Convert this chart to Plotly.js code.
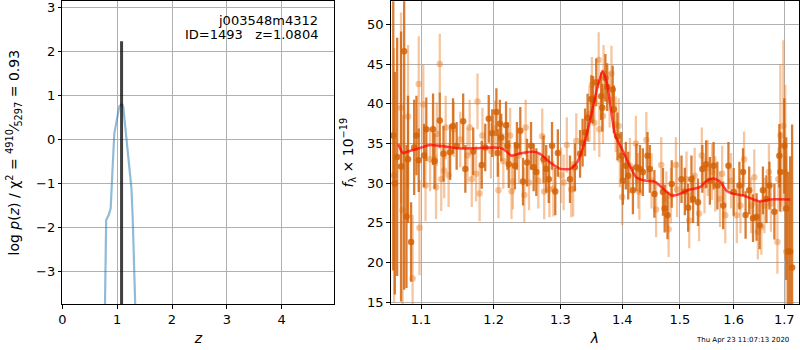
<!DOCTYPE html>
<html>
<head>
<meta charset="utf-8">
<script src="https://cdn.plot.ly/plotly-3.0.1.min.js"></script>
<style>html,body{margin:0;padding:0;background:#fff}#chart{width:800px;height:350px}</style>
</head>
<body>
<div id="chart"></div>
<script>
// ---- left panel: redshift probability ----
const zGrid = [0.775, 0.782, 0.79, 0.80, 0.844, 0.882, 0.912, 0.948, 0.992, 1.04, 1.076, 1.095, 1.112, 1.14, 1.178, 1.234, 1.26, 1.283, 1.305, 1.325, 1.335];
const logPz = [-4.0, -3.0, -2.2, -1.83, -1.72, -1.56, -0.77, 0.14, 0.44, 0.76, 0.80, 0.80, 0.74, 0.40, 0.0, -0.62, -1.1, -1.76, -2.6, -3.65, -4.0];
const zBest = [1.0804, 1.0804];
const zBestY = [-4.0, 2.24];

// ---- right panel: spectrum (two grism orientations) ----
const wavA = [1.064, 1.066, 1.069, 1.074, 1.078, 1.081, 1.083, 1.087, 1.091, 1.094, 1.097, 1.104, 1.107, 1.116, 1.118, 1.125, 1.130, 1.139, 1.143, 1.148, 1.157, 1.160, 1.171, 1.183, 1.188, 1.193, 1.198, 1.204, 1.206, 1.209, 1.211, 1.218, 1.220, 1.222, 1.231, 1.234, 1.239, 1.243, 1.249, 1.255, 1.259, 1.263, 1.274, 1.278, 1.282, 1.287, 1.292, 1.296, 1.315, 1.3227, 1.331, 1.335, 1.339, 1.343, 1.349, 1.352, 1.357, 1.365, 1.367, 1.372, 1.375, 1.384, 1.386, 1.392, 1.3985, 1.401, 1.406, 1.410, 1.418, 1.424, 1.430, 1.435, 1.443, 1.447, 1.455, 1.470, 1.473, 1.478, 1.4855, 1.503, 1.509, 1.515, 1.521, 1.524, 1.533, 1.541, 1.548, 1.555, 1.562, 1.569, 1.580, 1.590, 1.600, 1.611, 1.618, 1.623, 1.630, 1.6375, 1.6445, 1.6505, 1.657, 1.664, 1.670, 1.680, 1.690, 1.692, 1.700, 1.704, 1.708, 1.712, 1.716];
const fluxA = [36.0, 30.0, 33.3, 32.1, 46.6, 25.8, 33.0, 22.6, 34.5, 36.0, 32.9, 33.5, 36.8, 36.8, 32.8, 37.9, 33.7, 33.9, 37.2, 34.7, 37.8, 31.8, 34.0, 32.3, 34.5, 38.1, 36.3, 38.95, 33.8, 37.5, 35.75, 37.3, 34.7, 32.4, 32.2, 34.7, 36.6, 30.2, 32.6, 34.7, 32.0, 31.4, 33.0, 31.8, 30.5, 34.7, 28.95, 33.8, 30.5, 32.0, 33.7, 35.1, 36.4, 38.25, 40.6, 40.5, 42.7, 40.95, 39.5, 43.25, 42.1, 41.8, 39.3, 35.9, 33.45, 30.3, 32.2, 30.95, 29.1, 32.0, 31.8, 31.4, 33.45, 31.8, 28.65, 28.9, 26.8, 25.95, 29.9, 30.5, 28.95, 26.9, 30.5, 28.0, 27.6, 31.8, 32.4, 30.3, 32.2, 29.7, 27.2, 32.2, 28.9, 29.7, 31.4, 26.0, 29.1, 25.6, 25.75, 24.7, 29.1, 28.0, 29.7, 26.4, 33.45, 31.4, 34.7, 26.8, 21.4, 21.4, 19.4];
const errA = [17, 14, 15, 17, 30, 9, 8, 5, 6, 5, 4, 4, 4, 4.5, 3.5, 3.5, 3.5, 3.5, 3.5, 3, 3.5, 3, 3, 3, 3, 3, 3, 3, 3, 3, 3, 3, 3, 3, 3, 3, 3, 3, 3, 3, 3, 3, 3, 3, 3, 3, 3, 3, 3, 3, 3, 3, 3, 3, 3, 3, 3, 3, 3, 3, 3, 3, 3, 3, 3, 3, 3, 3, 3, 3, 3, 3, 3, 3, 3, 3, 3, 3, 3, 3, 3, 3, 3, 3, 3, 3, 3, 3, 3, 3, 3, 3, 3, 3, 3, 3, 3, 3, 3, 3, 3, 3, 3, 3.5, 4, 5, 6, 9, 10, 12, 18];

const wavB = [1.065, 1.074, 1.076, 1.083, 1.089, 1.097, 1.098, 1.103, 1.106, 1.112, 1.120, 1.121, 1.125, 1.127, 1.131, 1.133, 1.137, 1.144, 1.153, 1.163, 1.166, 1.169, 1.175, 1.177, 1.180, 1.184, 1.196, 1.202, 1.207, 1.214, 1.224, 1.226, 1.228, 1.237, 1.245, 1.247, 1.252, 1.266, 1.272, 1.275, 1.283, 1.289, 1.301, 1.305, 1.310, 1.317, 1.320, 1.325, 1.346, 1.350, 1.354, 1.361, 1.362, 1.368, 1.369, 1.379, 1.382, 1.389, 1.394, 1.396, 1.400, 1.413, 1.423, 1.427, 1.429, 1.441, 1.450, 1.458, 1.467, 1.476, 1.480, 1.484, 1.493, 1.495, 1.512, 1.517, 1.527, 1.535, 1.540, 1.545, 1.551, 1.559, 1.565, 1.574, 1.578, 1.584, 1.595, 1.606, 1.613, 1.620, 1.634, 1.640, 1.647, 1.654, 1.660, 1.669, 1.673, 1.686, 1.688, 1.692, 1.698, 1.702, 1.704];
const fluxB = [31.0, 39.5, 26.6, 38.4, 18.0, 42.5, 24.4, 39.9, 29.7, 33.0, 29.5, 36.2, 45.0, 30.5, 31.6, 37.0, 31.0, 36.8, 35.5, 33.5, 37.0, 30.5, 31.2, 40.3, 28.7, 36.0, 34.1, 36.9, 29.1, 32.8, 36.0, 29.0, 30.2, 33.5, 28.5, 37.0, 30.1, 30.3, 35.9, 28.95, 29.2, 29.3, 31.0, 30.1, 34.8, 29.2, 29.3, 35.3, 38.7, 42.4, 37.6, 45.5, 36.8, 38.45, 43.9, 40.5, 43.8, 37.4, 37.2, 33.0, 28.25, 32.2, 35.0, 30.3, 28.9, 35.45, 30.3, 26.7, 32.3, 28.0, 24.2, 28.45, 32.3, 29.2, 30.5, 25.3, 30.95, 26.2, 33.5, 29.7, 31.9, 31.4, 29.9, 28.0, 31.2, 25.95, 30.3, 25.95, 27.2, 33.0, 27.2, 30.75, 23.9, 24.5, 27.2, 31.4, 27.4, 22.6, 30.5, 36.0, 37.2, 31.4, 21.4];
const errB = [16, 12, 12, 9, 8, 6, 6, 5, 4.5, 4, 4, 4, 3.8, 4, 3.5, 4, 4, 3.5, 3.5, 3.5, 3.5, 3.5, 3.5, 3.5, 3.5, 3.5, 3.5, 3.5, 3.5, 3.5, 3.5, 3.5, 3.5, 3.5, 3.5, 3.5, 3.5, 3.5, 3.5, 3.5, 3.5, 3.5, 3.5, 3.5, 3.5, 3.5, 3.5, 3.5, 3.5, 3.5, 3.5, 3.5, 3.5, 3.5, 3.5, 3.5, 3.5, 3.5, 3.5, 3.5, 3.5, 3.5, 3.5, 3.5, 3.5, 3.5, 3.5, 3.5, 3.5, 3.5, 3.5, 3.5, 3.5, 3.5, 3.5, 3.5, 3.5, 3.5, 3.5, 3.5, 3.5, 3.5, 3.5, 3.5, 3.5, 3.5, 3.5, 3.5, 3.5, 3.5, 3.5, 3.5, 3.5, 3.5, 3.5, 3.5, 3.5, 4, 4, 9, 10.8, 11, 12];

const wavModel = [1.0705, 1.0761, 1.0799, 1.0943, 1.1119, 1.1253, 1.148, 1.1712, 1.2, 1.214, 1.2263, 1.2385, 1.2585, 1.2686, 1.2841, 1.3, 1.3155, 1.326, 1.3366, 1.3473, 1.3581, 1.3673, 1.3745, 1.3811, 1.3882, 1.3995, 1.4127, 1.4235, 1.44, 1.4556, 1.4643, 1.4853, 1.4998, 1.5179, 1.5368, 1.5489, 1.5611, 1.5737, 1.5864, 1.6, 1.6188, 1.6383, 1.6516, 1.6716, 1.7122];
const fluxModel = [34.9, 33.8, 33.9, 34.3, 34.8, 34.7, 34.4, 34.4, 34.5, 34.3, 33.45, 33.75, 33.95, 33.7, 32.6, 31.8, 31.8, 32.6, 34.7, 38.0, 41.8, 44.1, 42.6, 39.3, 36.0, 34.3, 32.2, 30.75, 30.3, 30.2, 29.7, 28.45, 28.65, 29.2, 29.5, 30.3, 30.6, 30.2, 29.05, 28.65, 28.45, 27.95, 27.7, 27.95, 27.95];

const zTicks = [0, 1, 2, 3, 4];
const pzTicks = [-3, -2, -1, 0, 1, 2, 3];
const pzTickText = ['\u22123', '\u22122', '\u22121', '0', '1', '2', '3'];
const wavTicks = [1.1, 1.2, 1.3, 1.4, 1.5, 1.6, 1.7];
const wavTickText = ['1.1', '1.2', '1.3', '1.4', '1.5', '1.6', '1.7'];
const fluxTicks = [15, 20, 25, 30, 35, 40, 45, 50];

const FONT = 'DejaVu Sans, sans-serif';
const darkCol = 'rgba(210,96,5,0.82)';
const lightCol = 'rgba(232,128,45,0.45)';

const traces = [
  {x: zGrid, y: logPz, xaxis: 'x', yaxis: 'y', mode: 'lines', line: {color: 'rgba(31,119,180,0.5)', width: 2.2}, hoverinfo: 'skip'},
  {x: zBest, y: zBestY, xaxis: 'x', yaxis: 'y', mode: 'lines', line: {color: 'rgba(0,0,0,0.75)', width: 3}, hoverinfo: 'skip'},
  {x: wavB, y: fluxB, xaxis: 'x2', yaxis: 'y2', mode: 'markers',
   marker: {color: lightCol, size: 6.5},
   error_y: {type: 'data', array: errB, color: lightCol, thickness: 2.3, width: 0}},
  {x: wavA, y: fluxA, xaxis: 'x2', yaxis: 'y2', mode: 'markers',
   marker: {color: darkCol, size: 6.5},
   error_y: {type: 'data', array: errA, color: darkCol, thickness: 2.3, width: 0}},
  {x: wavModel, y: fluxModel, xaxis: 'x2', yaxis: 'y2', mode: 'lines', line: {color: 'rgba(255,0,0,0.7)', width: 2.5, shape: 'spline', smoothing: 0.6}}
];

const axBase = {showline: true, mirror: true, linecolor: '#000', linewidth: 1, ticks: 'outside', ticklen: 3.5, tickcolor: '#000',
  showgrid: true, gridcolor: '#b0b0b0', gridwidth: 1, zeroline: false, automargin: false, ticklabeloverflow: 'allow',
  tickfont: {family: FONT, size: 13, color: '#000'}};

const layout = {
  width: 800, height: 350, margin: {l: 0, r: 0, t: 0, b: 0}, showlegend: false,
  paper_bgcolor: '#fff', plot_bgcolor: '#fff', font: {family: FONT, size: 13, color: '#000'},
  xaxis: Object.assign({}, axBase, {domain: [0.0779, 0.4179], range: [0, 4.96], tickvals: zTicks, anchor: 'y',
    title: {text: '<i>z</i>', font: {family: FONT, size: 14}, standoff: 7}}),
  yaxis: Object.assign({}, axBase, {domain: [0.1314, 0.9963], range: [-3.74, 3.15], tickmode: 'array', tickvals: pzTicks, ticktext: pzTickText, anchor: 'x',
    title: {text: 'log <i>p</i>(<i>z</i>) / \u03c7<sup>2</sup> = <sup>4910</sup>\u2044<sub>5297</sub> = 0.93', font: {family: FONT, size: 14}, standoff: 13}}),
  xaxis2: Object.assign({}, axBase, {domain: [0.4884, 0.9991], type: 'log', range: [0.025626, 0.238255], anchor: 'y2',
    tickvals: wavTicks, ticktext: wavTickText,
    title: {text: '<i>\u03bb</i>', font: {family: FONT, size: 14}, standoff: 7}}),
  yaxis2: Object.assign({}, axBase, {domain: [0.1314, 0.9963], range: [14.79, 52.9], tickvals: fluxTicks, anchor: 'x2',
    title: {text: '<i>f</i><sub>\u03bb</sub> \u00d7 10<sup>\u221219</sup>', font: {family: FONT, size: 14}, standoff: 10}}),
  annotations: [
    {text: 'j003548m4312', xref: 'paper', yref: 'paper', x: 0.4, y: 1 - 20/350, xanchor: 'right', yanchor: 'middle', showarrow: false, font: {family: FONT, size: 13}},
    {text: 'ID=1493\u00a0\u00a0\u00a0z=1.0804', xref: 'paper', yref: 'paper', x: 0.4, y: 1 - 34/350, xanchor: 'right', yanchor: 'middle', showarrow: false, font: {family: FONT, size: 13}},
    {text: 'Thu Apr 23 11:07:13 2020', xref: 'paper', yref: 'paper', x: 742/800, y: 1 - 340/350, xanchor: 'center', yanchor: 'middle', showarrow: false, font: {family: FONT, size: 7}}
  ]
};

Plotly.newPlot('chart', traces, layout, {staticPlot: true, displayModeBar: false});
</script>
</body>
</html>
